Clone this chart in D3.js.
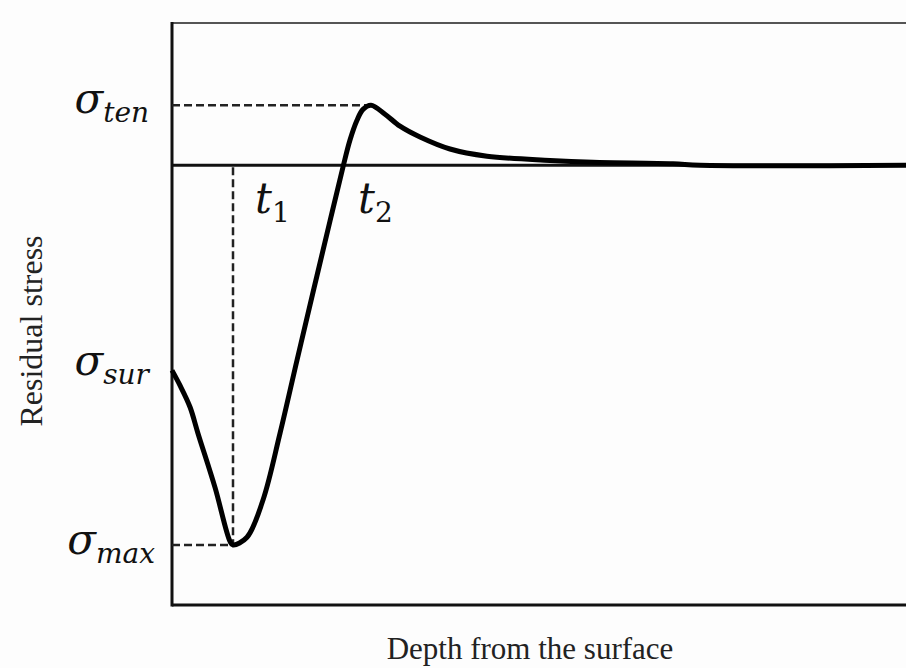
<!DOCTYPE html>
<html lang="en">
<head>
    <meta charset="UTF-8">
    <title>Residual stress profile</title>
    <script src="https://d3js.org/d3.v7.min.js"></script>
    <style>
        body { margin: 0; background: #fdfdfd; }
        .math { font-family: "DejaVu Serif", serif; font-style: italic; fill: #111; }
        .axis-title { font-family: "Liberation Serif", "Times New Roman", serif; fill: #222; }
    </style>
</head>
<body>
    <svg width="906" height="668"></svg>

    <script>
        // Residual stress profile (arbitrary units)
        var depth  = [0, 0.8, 1.8, 2.6, 4.3, 5.8, 6.1, 7.5, 9.1, 10.8, 12.5, 14.2, 15.8, 17.1,
                      17.8, 18.5, 19.1, 19.9, 21.3, 22.8, 24.8, 27.8, 31.5, 37.8, 42.1, 50.1, 52.8, 73.4];
        var stress = [-3.42, -3.67, -4.03, -4.47, -5.37, -6.27, -6.33, -6.2, -5.58, -4.47, -3.25, -2.05, -0.93, -0.03,
                      0.42, 0.75, 0.93, 1.0, 0.85, 0.65, 0.47, 0.27, 0.15, 0.08, 0.05, 0.025, 0, 0];

        // Characteristic levels and depths
        var sigmaTen = 1.0, sigmaSur = -3.42, sigmaMax = -6.33;
        var t1 = 6.1, t2 = 17.1, tenDepth = 19.9;

        var svg = d3.select("svg"),
            margin = {top: 23, right: 0, bottom: 63, left: 172},
            width = +svg.attr("width") - margin.left - margin.right,
            height = +svg.attr("height") - margin.top - margin.bottom,
            g = svg.append("g").attr("transform", "translate(" + margin.left + "," + margin.top + ")");

        var x = d3.scaleLinear().domain([0, 73.4]).range([0, width]);
        var y = d3.scaleLinear().domain([-7.33, 2.37]).range([height, 0]);

        // frame
        g.append("line").attr("x1", 0).attr("x2", width).attr("y1", 0).attr("y2", 0)
            .attr("stroke", "#555").attr("stroke-width", 2);
        g.append("line").attr("x1", 0).attr("x2", 0).attr("y1", -1).attr("y2", height + 1.5)
            .attr("stroke", "#111").attr("stroke-width", 3);
        g.append("line").attr("x1", 0).attr("x2", width).attr("y1", height).attr("y2", height)
            .attr("stroke", "#111").attr("stroke-width", 3);
        // zero stress line
        g.append("line").attr("x1", 0).attr("x2", width).attr("y1", y(0)).attr("y2", y(0))
            .attr("stroke", "#111").attr("stroke-width", 3);

        // dashed guides
        var dash = "8,4";
        g.append("line").attr("x1", 0).attr("x2", x(tenDepth)).attr("y1", y(sigmaTen)).attr("y2", y(sigmaTen))
            .attr("stroke", "#222").attr("stroke-width", 2.5).attr("stroke-dasharray", dash);
        g.append("line").attr("x1", 0).attr("x2", x(t1)).attr("y1", y(sigmaMax)).attr("y2", y(sigmaMax))
            .attr("stroke", "#222").attr("stroke-width", 2.5).attr("stroke-dasharray", dash);
        g.append("line").attr("x1", x(t1)).attr("x2", x(t1)).attr("y1", y(0) + 2).attr("y2", y(sigmaMax))
            .attr("stroke", "#222").attr("stroke-width", 2.5).attr("stroke-dasharray", dash);

        // stress curve
        var line = d3.line()
            .x(function(d, i) { return x(depth[i]); })
            .y(function(d) { return y(d); })
            .curve(d3.curveCatmullRom.alpha(0.5));
        g.append("path").datum(stress)
            .attr("d", line)
            .attr("fill", "none")
            .attr("stroke", "#000")
            .attr("stroke-width", 5)
            .attr("stroke-linejoin", "round");

        // sigma labels on the left
        var sigLabels = [
            {sub: "ten", v: sigmaTen, dy: 8, xr: 149},
            {sub: "sur", v: sigmaSur, dy: 5, xr: 149},
            {sub: "max", v: sigmaMax, dy: 9, xr: 155}
        ];
        sigLabels.forEach(function(d) {
            var t = svg.append("text").attr("class", "math")
                .attr("x", d.xr).attr("y", margin.top + y(d.v) + d.dy)
                .attr("text-anchor", "end");
            t.append("tspan").attr("font-size", 42).text("σ");
            t.append("tspan").attr("font-size", 28).attr("dy", 9).text(d.sub);
        });

        // depth labels below zero line
        var tLabels = [{n: "1", at: t1, dx: 22}, {n: "2", at: t2, dx: 15}];
        tLabels.forEach(function(d) {
            var t = g.append("text").attr("class", "math")
                .attr("x", x(d.at) + d.dx).attr("y", y(0) + 48);
            t.append("tspan").attr("font-size", 42).text("t");
            t.append("tspan").attr("font-size", 28).attr("font-style", "normal").attr("dy", 9).text(d.n);
        });

        // axis titles
        svg.append("text").attr("class", "axis-title")
            .attr("x", 530).attr("y", 659)
            .attr("text-anchor", "middle").attr("font-size", 31)
            .text("Depth from the surface");
        svg.append("text").attr("class", "axis-title")
            .attr("transform", "translate(42,331) rotate(-90)")
            .attr("text-anchor", "middle").attr("font-size", 32)
            .text("Residual stress");
    </script>
</body>
</html>
